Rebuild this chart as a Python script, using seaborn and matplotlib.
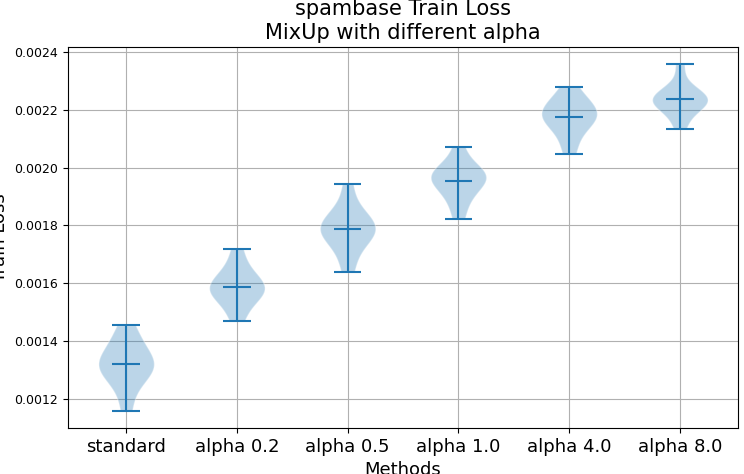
import numpy as np
import matplotlib
matplotlib.use("Agg")
import matplotlib.pyplot as plt
import seaborn as sns

methods = ['standard', 'alpha 0.2', 'alpha 0.5', 'alpha 1.0', 'alpha 4.0', 'alpha 8.0']

# per-run train losses
standard = [0.00116, 0.00124, 0.00128, 0.00130, 0.00131, 0.00132, 0.00133, 0.00135, 0.00138, 0.00141, 0.001455]
alpha_02 = [0.00147, 0.00152, 0.00155, 0.00157, 0.00158, 0.00158, 0.00159, 0.00161, 0.00163, 0.00166, 0.00172]
alpha_05 = [0.001638, 0.00170, 0.00175, 0.00177, 0.00178, 0.00179, 0.00179, 0.00181, 0.00183, 0.00186, 0.001943]
alpha_10 = [0.001822, 0.00188, 0.00191, 0.00194, 0.00196, 0.00196, 0.00197, 0.00198, 0.00199, 0.00201, 0.002072]
alpha_40 = [0.002048, 0.00210, 0.00214, 0.00216, 0.00217, 0.00218, 0.00219, 0.00221, 0.00222, 0.00224, 0.002278]
alpha_80 = [0.002135, 0.00218, 0.00221, 0.00222, 0.00223, 0.00223, 0.00224, 0.00225, 0.00226, 0.00228, 0.002357]

data = [standard, alpha_02, alpha_05, alpha_10, alpha_40, alpha_80]

sns.set_style("white")
plt.rcParams['font.family'] = ['DejaVu Sans']
plt.rcParams['text.color'] = 'black'
plt.rcParams['axes.labelcolor'] = 'black'
plt.rcParams['xtick.color'] = 'black'
plt.rcParams['ytick.color'] = 'black'

fig, ax = plt.subplots(figsize=(7.44, 4.74), dpi=100)
ax.violinplot(data, showmeans=True, showextrema=True)
ax.set_xticks(range(1, len(methods) + 1))
ax.set_xticklabels(methods, fontsize=13)
ax.tick_params(axis='y', labelsize=9)
ax.set_xlabel('Methods', fontsize=13)
ax.set_ylabel('Train Loss', fontsize=13)
ax.set_title('spambase Train Loss\nMixUp with different alpha', fontsize=15, color='black')
ax.grid(True, color='#b0b0b0', linewidth=0.8)
ax.set_ylim(0.0011, 0.002417)
for s in ax.spines.values():
    s.set_color('black')
    s.set_linewidth(0.8)
ax.tick_params(axis='both', direction='out', length=3.5, left=True, bottom=True)

fig.subplots_adjust(left=68/744, right=738/744, top=1-47/474, bottom=1-428/474)
plt.savefig('out.png')
